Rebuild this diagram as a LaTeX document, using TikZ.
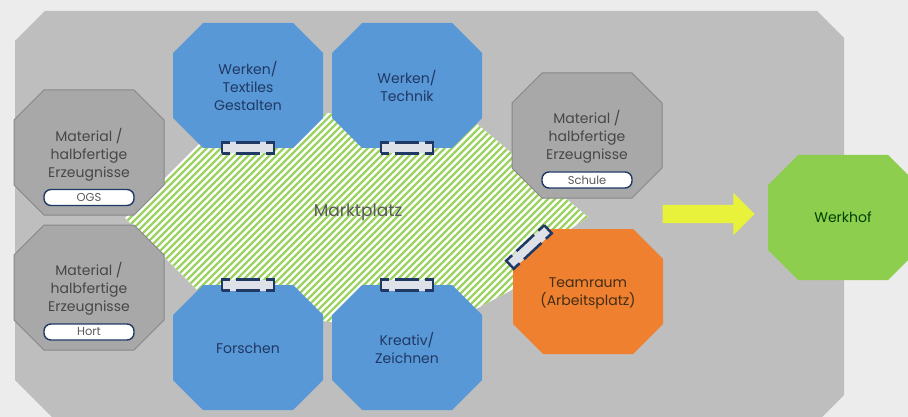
\documentclass[tikz,border=0pt]{standalone}
\usepackage{fontspec}
\setmainfont{Poppins}
\usetikzlibrary{shapes.arrows,positioning}
\definecolor{paper}{RGB}{236,236,236}
\definecolor{floorgrey}{RGB}{190,190,190}
\definecolor{roomblue}{RGB}{88,152,214}
\definecolor{roomgrey}{RGB}{168,168,168}
\definecolor{roomedge}{RGB}{135,135,135}
\definecolor{roomorange}{RGB}{238,128,48}
\definecolor{roomgreen}{RGB}{142,206,78}
\definecolor{arrowyellow}{RGB}{232,242,58}
\definecolor{hatchgreen}{RGB}{156,210,96}
\definecolor{navy}{RGB}{32,56,100}
\definecolor{doorfill}{RGB}{222,226,232}

\begin{document}
\begin{tikzpicture}
	[x=1pt, y=-1pt, inner sep=0pt,
	room/.pic       = {\path [pic actions] (-45,-62.5) -- (45,-62.5) -- (75,-32.5) -- (75,32.5)
	                   -- (45,62.5) -- (-45,62.5) -- (-75,32.5) -- (-75,-32.5) -- cycle;},
	roomtext/.style = {minimum width=150pt, minimum height=125pt, align=center,
	                   font=\fontsize{14}{18}\selectfont},
	bluetext/.style = {roomtext, text=navy},
	greytext/.style = {roomtext, text=black!72},
	tag/.style      = {draw=navy, line width=1.4pt, fill=white, rounded corners=7pt, minimum width=90pt,
	                   minimum height=16pt, font=\fontsize{11.5}{11.5}\selectfont, text=black!65},
	door/.style     = {draw=navy, fill=doorfill, line width=2.5pt, minimum width=52pt, minimum height=11pt,
	                   dash pattern=on 8pt off 6pt on 24pt off 6pt on 27pt off 6pt on 24pt off 6pt on 19pt off 0pt}]

	% page and floor
	\fill [paper] (0,0) rectangle (908,417);
	\clip (0,0) rectangle (908,417);
	\fill [floorgrey] (45,11) -- (817,11) -- (844,38) -- (844,395) -- (815,424) -- (59,424)
	                  -- (15,380) -- (15,41) -- cycle;

	% Marktplatz
	\fill [white] (125,218) -- (200,143) -- (328,113) -- (470,118) -- (588,217) -- (540,250)
	              -- (512,290) -- (470,312) -- (328,322) -- (197,290) -- cycle;
	\begin{scope}
		\clip (125,218) -- (200,143) -- (328,113) -- (470,118) -- (588,217) -- (540,250)
		      -- (512,290) -- (470,312) -- (328,322) -- (197,290) -- cycle;
		\foreach \i in {-300,-293,...,600}
			\draw [hatchgreen, line width=2.4pt] (\i,340) -- ++(240,-240);
	\end{scope}

	% rooms
	\foreach \cx/\cy in {248/85.5, 407/85.5, 248/347.5, 407/347.5}
		\pic [fill=roomblue] at (\cx,\cy) {room};
	\foreach \cx/\cy in {89/152.5, 89/287.5, 587/135.5}
		\pic [fill=roomgrey, draw=roomedge, line width=1pt] at (\cx,\cy) {room};
	\pic [fill=roomorange] at (588,291.5) {room};
	\pic [fill=roomgreen]  at (843,217.5) {room};

	\node [bluetext] at (248,86)    (textil)   {Werken/\\Textiles\\Gestalten};
	\node [bluetext] at (407,86)    (technik)  {Werken/\\Technik};
	\node [bluetext] at (248,348)   (forschen) {Forschen};
	\node [bluetext] at (407,348)   (kreativ)  {Kreativ/\\Zeichnen};
	\node [greytext] at (89,154.5)  (ogs)      {Material /\\halbfertige\\Erzeugnisse};
	\node [greytext] at (89,289)    (hort)     {Material /\\halbfertige\\Erzeugnisse};
	\node [greytext] at (587,137)   (schule)   {Material /\\halbfertige\\Erzeugnisse};
	\node [roomtext, text=black!65!brown]  at (588,293) (team)    {Teamraum\\(Arbeitsplatz)};
	\node [roomtext, text=green!25!black]  at (843,217.5) (werkhof) {Werkhof};

	\node [tag, above=11pt of ogs.south]    (ogstag)    {OGS};
	\node [tag, above=11pt of hort.south]   (horttag)   {Hort};
	\node [tag, above=11pt of schule.south] (schuletag) {Schule};

	\node [font=\fontsize{17}{17}\selectfont, text=black!65] at (358,212) (markt) {Marktplatz};

	% doors
	\node [door] at (248,148) (d1) {};
	\node [door] at (407,148) (d2) {};
	\node [door] at (248,285) (d3) {};
	\node [door] at (407,285) (d4) {};
	\node [door, rotate=43] at (529,247) (d5) {};

	\node [single arrow, fill=arrowyellow, inner xsep=0pt, inner ysep=9pt, minimum height=92pt,
	       single arrow head extend=12pt] at (704,214) (arrow) {};
\end{tikzpicture}
\end{document}
